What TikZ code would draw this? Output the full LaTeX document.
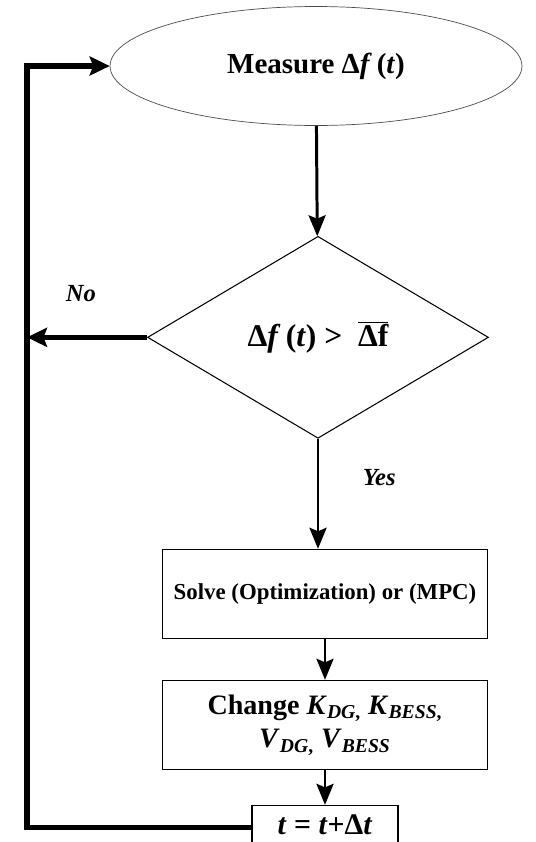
\documentclass[tikz,border=0pt]{standalone}
\usepackage{fontspec}
\setmainfont{Liberation Serif}
\usetikzlibrary{positioning, arrows.meta, shapes.geometric}
\tikzset{
  startstop/.style={
    ellipse, draw=black!70, thin, minimum width=8.24cm, minimum height=2.38cm,
    inner sep=0pt, font=\fontsize{16.5}{19}\selectfont\bfseries
  },
  decision/.style={
    diamond, draw, semithick, minimum width=6.82cm, minimum height=4.04cm,
    inner sep=0pt, font=\fontsize{18}{21}\selectfont\bfseries
  },
  process/.style={
    rectangle, draw, semithick, minimum width=6.52cm, minimum height=1.78cm,
    inner sep=2pt, align=center
  },
  flow/.style={-{Stealth[length=0.42cm, width=0.34cm, inset=0.07cm]}, line width=1.7pt},
  backflow/.style={line width=3pt},
  branch/.style={font=\fontsize{14}{16}\selectfont\bfseries\itshape},
}

\begin{document}
\begin{tikzpicture}[x=0.02cm, y=-0.02cm, node distance=2.2cm]
  \useasboundingbox (0,0) rectangle (535,842);
  \node[startstop] (measure) at (316,66) {Measure Δ\textit{f}\,(\textit{t})};
  \node[decision, below=of measure, xshift=0.04cm] (test)
    {Δ\textit{f}\,(\textit{t}) >\enspace$\overline{\mbox{Δf}}$};
  \node[process, below=of test, xshift=0.14cm,
    font=\fontsize{13}{15}\selectfont\bfseries] (solve) {Solve (Optimization) or (MPC)};
  \node[process, below=0.82cm of solve,
    font=\fontsize{16}{19}\selectfont\bfseries] (change)
    {Change \textit{K}\textsubscript{\textit{DG},} \textit{K}\textsubscript{\textit{BESS},}\\
     \textit{V}\textsubscript{\textit{DG},} \textit{V}\textsubscript{\textit{BESS}}};
  \node[process, below=0.7cm of change, minimum width=2.92cm, minimum height=0.88cm,
    font=\fontsize{17}{20}\selectfont\bfseries] (tstep)
    {\raisebox{0.1cm}{\textit{t} = \textit{t}+Δ\textit{t}}};
  \coordinate (rail) at (27,66);

  % main flow
  \draw[flow] (measure) -- (test);
  \draw[flow] (test.south) -- (test.south |- solve.north)
    node[branch, pos=0.35, right=0.75cm] (yes) {Yes};
  \draw[flow] (solve) -- (change);
  \draw[flow] (change) -- (tstep);

  % feedback
  \draw[backflow, -{Stealth[length=0.4cm, width=0.38cm, inset=0.07cm]}] (test.west) -- (test.west -| rail)
    node[branch, pos=0.55, above=0.55cm] (no) {No};
  \draw[backflow, -{Stealth[length=0.4cm, width=0.38cm, inset=0.07cm]}] (tstep.west) -| (rail) -- (measure.west);
\end{tikzpicture}
\end{document}
